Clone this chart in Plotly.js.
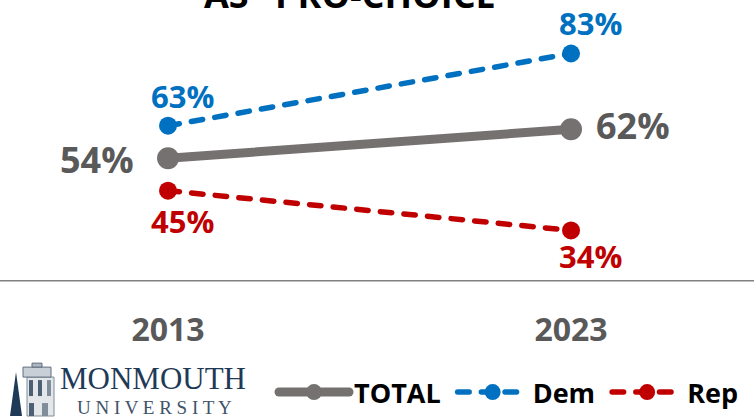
<!DOCTYPE html>
<html><head><meta charset="utf-8">
<script src="https://cdn.plot.ly/plotly-3.0.1.min.js"></script>
<style>html,body{margin:0;padding:0;background:#fff}
.js-line{stroke-linecap:round}</style></head>
<body><div id="c" style="width:754px;height:417px"></div>
<script>
const years=['2013','2023'];
const total=[54,62];
const dem=[63,83];
const rep=[45,34];
const seriesNames=['TOTAL\u00a0','Dem\u00a0','Rep'];
const title='AS "PRO-CHOICE"';
const logoTop='MONMOUTH';
const logoBottom='U N I V E R S I T Y';
const x=[0,1];
const GRAY='#767171',BLUE='#0070C0',RED='#C00000';
function tr(name,y,color,dash,w,ms){return {name:name,x:x,y:y,mode:'lines+markers',line:{color:color,width:w,dash:dash},marker:{color:color,size:ms},cliponaxis:false,hoverinfo:'skip'};}
const data=[
 tr(seriesNames[0],total,GRAY,'solid',9,22),
 tr(seriesNames[1],dem,BLUE,'11.5px,12.2px',5.5,18),
 tr(seriesNames[2],rep,RED,'11.5px,12.2px',5.5,18)
];
function lab(y,color,size,dx,dy){return y.map((v,k)=>({xref:'x',yref:'y',x:x[k],y:v,text:'<b>'+v+'%</b>',showarrow:false,xanchor:'center',yanchor:'middle',xshift:dx[k],yshift:dy[k],font:{family:'Open Sans',size:size,color:color}}));}
const px=v=>v/754, py=v=>(417-v)/417;
function note(a,b,text,family,size,color){return {xref:'paper',yref:'paper',x:px(a),y:py(b),text:text,showarrow:false,xanchor:'center',yanchor:'middle',font:{family:family,size:size,color:color}};}
const annotations=[
 ...lab(total,'#595959',36,[-71,62],[-1,4]),
 ...lab(dem,BLUE,31,[14,19],[30,30]),
 ...lab(rep,RED,31,[14,19],[-30,-26]),
 note(358,-6,'<b>'+title+'</b>','Open Sans',36,'#000'),
 note(153,379,logoTop,'Liberation Serif',31,'#1F3A57'),
 note(154,408,logoBottom,'Liberation Serif',19,'#3F5369')
];
function rect(a,b,c,d,col,edge){return {type:'rect',xref:'paper',yref:'paper',x0:px(a),x1:px(c),y0:py(b),y1:py(d),fillcolor:col,line:edge?{width:1,color:edge}:{width:0},layer:'below'};}
function pine(a,b,c,d,col){return {type:'path',xref:'paper',yref:'paper',path:`M ${px(a)} ${py(d)} L ${px((a+c)/2)} ${py(b)} L ${px(c)} ${py(d)} Z`,fillcolor:col,line:{width:0},layer:'below'};}
const NAVY='#1F3A57';
const shapes=[
 {type:'line',xref:'paper',yref:'paper',x0:0,x1:1,y0:py(281.5),y1:py(281.5),line:{color:'#808080',width:1.5}},
 pine(10,373,22,417,NAVY),
 rect(27,378,54,417,'#E4E7EA','#7F8C99'),
 rect(23,368,51,378,'#C9CFD6','#5F6E7E'),
 rect(32,364,42,368,'#AEB6BF','#5F6E7E'),
 rect(29,381,33,397,'#4D5F72'),
 rect(38,381,42,397,'#4D5F72'),
 rect(47,381,51,397,'#7F8C99'),
 rect(29,404,34,417,'#4D5F72'),
 rect(42,404,48,417,'#7F8C99')
];
const layout={width:754,height:417,margin:{l:0,r:0,t:0,b:0},paper_bgcolor:'rgba(0,0,0,0)',plot_bgcolor:'rgba(0,0,0,0)',font:{family:'Open Sans'},
 showlegend:true,
 legend:{orientation:'h',x:px(274),xanchor:'left',y:py(393),yanchor:'middle',itemwidth:70,bgcolor:'rgba(0,0,0,0)',font:{family:'Open Sans',size:27,color:'#000',weight:700},itemclick:false,itemdoubleclick:false},
 xaxis:{range:[-0.4169,1.454],domain:[0,1],showgrid:false,zeroline:false,showline:false,tickmode:'array',tickvals:x,ticktext:years.map(s=>'<b>'+s+'</b>'),anchor:'free',position:py(309),ticks:'',tickfont:{family:'Open Sans',size:32,color:'#595959'}},
 yaxis:{range:[-17.38,97.81],domain:[0,1],visible:false},
 annotations:annotations,shapes:shapes
};
Plotly.newPlot('c',data,layout,{displayModeBar:false,staticPlot:true});
</script></body></html>
